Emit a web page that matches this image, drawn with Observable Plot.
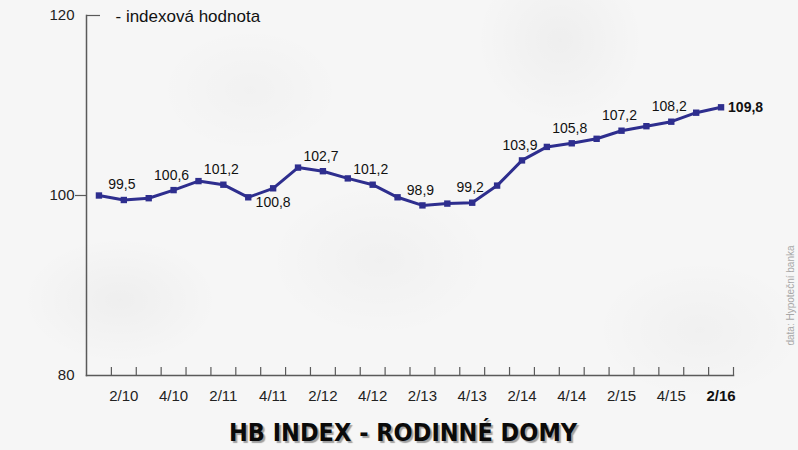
<!DOCTYPE html>
<html>
<head>
<meta charset="utf-8">
<script src="https://cdn.jsdelivr.net/npm/d3@7"></script>
<script src="https://cdn.jsdelivr.net/npm/@observablehq/plot@0.6"></script>
<style>
  html, body { margin: 0; padding: 0; }
  body {
    width: 798px; height: 450px; overflow: hidden;
    background:
      radial-gradient(ellipse 140px 90px at 120px 300px, rgba(0,0,0,0.03), rgba(0,0,0,0) 70%),
      radial-gradient(ellipse 160px 110px at 380px 260px, rgba(0,0,0,0.025), rgba(0,0,0,0) 70%),
      radial-gradient(ellipse 120px 120px at 560px 40px, rgba(0,0,0,0.03), rgba(0,0,0,0) 70%),
      radial-gradient(ellipse 150px 100px at 700px 330px, rgba(0,0,0,0.025), rgba(0,0,0,0) 70%),
      radial-gradient(ellipse 130px 90px at 250px 90px, rgba(0,0,0,0.02), rgba(0,0,0,0) 70%),
      #f6f6f6;
    font-family: "Liberation Sans", Arial, sans-serif;
  }
  svg { background: transparent !important; }
</style>
</head>
<body>
<div id="chart"></div>
<script>
// Quarters 1/10 .. 2/16
const quarters = ["1/10","2/10","3/10","4/10","1/11","2/11","3/11","4/11","1/12","2/12","3/12","4/12",
  "1/13","2/13","3/13","4/13","1/14","2/14","3/14","4/14","1/15","2/15","3/15","4/15","1/16","2/16"];
const values = [100.0, 99.5, 99.7, 100.6, 101.6, 101.2, 99.8, 100.8, 103.1, 102.7, 101.9, 101.2,
  99.8, 98.9, 99.1, 99.2, 101.1, 103.9, 105.4, 105.8, 106.3, 107.2, 107.7, 108.2, 109.2, 109.8];
const tickLabels = ["2/10","4/10","2/11","4/11","2/12","4/12","2/13","4/13","2/14","4/14","2/15","4/15","2/16"];
const labeledQuarters = ["2/10","4/10","2/11","4/11","2/12","4/12","2/13","4/13","2/14","4/14","2/15","4/15","2/16"];
const yTicks = [80, 100, 120];
const legendText = "- indexová hodnota";
const titleText = "HB INDEX - RODINNÉ DOMY";
const sourceText = "data: Hypoteční banka";

const data = quarters.map((q, i) => ({q, i, v: values[i]}));
const idx = q => quarters.indexOf(q);
const fmt = v => v.toFixed(1).replace(".", ",");
const lastQ = quarters[quarters.length - 1];
const belowSet = new Set(["4/11"]);
const labeled = data.filter(d => labeledQuarters.includes(d.q));
const above = labeled.filter(d => !belowSet.has(d.q) && d.q !== lastQ);
const below = labeled.filter(d => belowSet.has(d.q));
const last = labeled.filter(d => d.q === lastQ);
const boundaries = quarters.map((q, i) => i + 0.5);
const blue = "#2e2e8e";
const axisColor = "#5a5a5a";

const chart = Plot.plot({
  width: 798,
  height: 450,
  marginLeft: 86,
  marginRight: 65,
  marginTop: 15,
  marginBottom: 75,
  style: {fontFamily: "'Liberation Sans', Arial, sans-serif", background: "transparent", color: "#111"},
  x: {domain: [-0.5, quarters.length - 0.5], axis: null},
  y: {domain: [80, 120], axis: null},
  marks: [
    // axis lines
    Plot.frame({anchor: "left", stroke: axisColor, strokeWidth: 1.5}),
    Plot.frame({anchor: "bottom", stroke: axisColor, strokeWidth: 1.5}),
    // y ticks
    Plot.axisY({ticks: [100], tickSize: 11, text: null, label: null, stroke: axisColor, strokeWidth: 1.2}),
    Plot.axisY({ticks: [120], tickSize: -14, text: null, label: null, stroke: axisColor, strokeWidth: 1.2}),
    Plot.axisY({ticks: yTicks, tickSize: 0, tickPadding: 12, fontSize: 15, fill: "#222", label: null}),
    // x ticks (upward, at quarter boundaries)
    Plot.axisX({ticks: boundaries, tickSize: -8, text: null, label: null, stroke: axisColor, strokeWidth: 1.2}),
    // x labels
    Plot.axisX({ticks: tickLabels.filter(t => t !== lastQ).map(idx), tickFormat: i => quarters[i],
      tickSize: 0, tickPadding: 15, fontSize: 15, fill: "#222", label: null}),
    Plot.axisX({ticks: [idx(lastQ)], tickFormat: i => quarters[i],
      tickSize: 0, tickPadding: 15, fontSize: 15, fontWeight: "bold", fill: "#111", label: null}),
    // series
    Plot.line(data, {x: "i", y: "v", stroke: blue, strokeWidth: 3}),
    Plot.dot(data, {x: "i", y: "v", symbol: "square", r: 3.6, fill: blue}),
    // value labels
    Plot.text(above, {x: "i", y: "v", text: d => fmt(d.v), dy: -15, dx: -2, lineAnchor: "middle", fontSize: 14, fill: "#111"}),
    Plot.text(below, {x: "i", y: "v", text: d => fmt(d.v), dy: 14, lineAnchor: "middle", fontSize: 14, fill: "#111"}),
    Plot.text(last, {x: "i", y: "v", text: d => fmt(d.v), dx: 7, textAnchor: "start", lineAnchor: "middle", fontSize: 14, fontWeight: "bold", fill: "#111"}),
    // legend
    Plot.text([legendText], {frameAnchor: "top-left", dx: 29, dy: 1, text: d => d, textAnchor: "start", lineAnchor: "middle", fontSize: 17, fill: "#111"}),
    // source
    Plot.text([sourceText], {frameAnchor: "top-right", dx: 57, dy: 280, text: d => d, rotate: -90, textAnchor: "middle", lineAnchor: "middle", fontSize: 10, fill: "#a8a8a8"}),
    // title
    Plot.text([titleText], {frameAnchor: "bottom", dx: -7, dy: 57, text: d => d, lineAnchor: "middle", fontSize: 25, fontWeight: "bold", fontFamily: "'Liberation Sans Narrow', 'DejaVu Sans Condensed', sans-serif", fill: "#0a0a0a"})
  ]
});
// subtle drop shadow on the title text
d3.select(chart).selectAll("text").filter(function() { return this.textContent === titleText; })
  .style("text-shadow", "2px 2px 1px rgba(0,0,0,0.35)");
document.getElementById("chart").appendChild(chart);
</script>
</body>
</html>
